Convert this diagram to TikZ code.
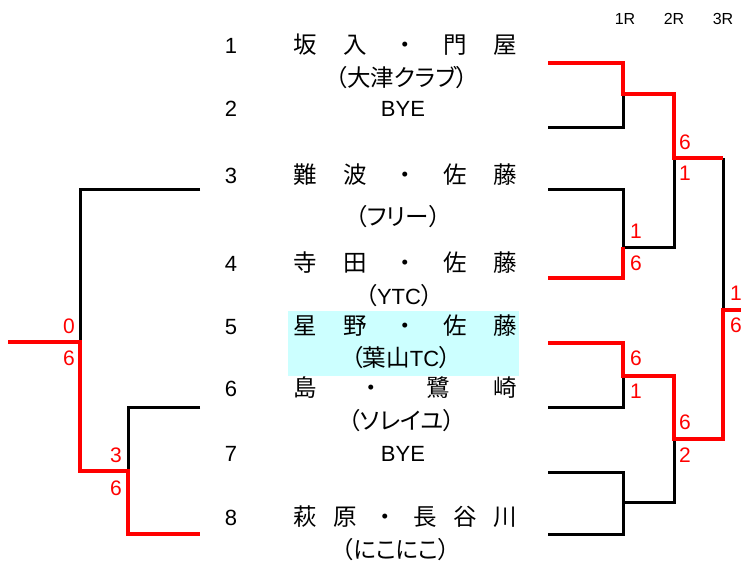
\documentclass[tikz,border=0pt]{standalone}
\usepackage{fontspec}
\setmainfont{Liberation Sans}
\newfontfamily\cjk{Noto Sans CJK JP}
\newfontfamily\cjkp[RawFeature=+palt]{Noto Sans CJK JP}
\definecolor{hlcyan}{RGB}{204,255,255}
\definecolor{winred}{RGB}{255,0,0}
\newcommand\jpsz{\fontsize{23.5}{23.5}\selectfont}
\begin{document}
\begin{tikzpicture}[x=1pt,y=-1pt,
  txt/.style={inner sep=0pt, text height=16.5pt, text depth=1pt, font=\fontsize{22}{22}\selectfont},
  jp/.style={txt, font=\cjk\jpsz},
  team/.style={txt, font=\cjkp\jpsz},
  hdr/.style={inner sep=0pt, text height=12pt, text depth=0pt, font=\fontsize{16}{16}\selectfont},
  score/.style={inner sep=0pt, text height=15.5pt, text depth=0pt, text=winred, font=\fontsize{21}{21}\selectfont},
  lose/.style={draw=black, line width=3pt},
  win/.style={draw=winred, line width=4pt}]
\useasboundingbox (0,0) rectangle (741,566);
% highlight
\node (hlbox) [fill=hlcyan, minimum width=231pt, minimum height=65pt, anchor=north west, inner sep=0pt] at (288,311) {};
% header
\node[hdr] (r1) at (625,18) {1R};
\node[hdr] (r2) at (674,18) {2R};
\node[hdr] (r3) at (723,18) {3R};
% seed numbers
\foreach \n/\y in {1/46,2/109,3/176,4/264,5/327,6/389,7/454,8/518}
  \node[txt] (num\n) at (231,\y) {\n};
% player names, spread
\foreach \c [count=\i] in {坂,入,・,門,屋} \node[jp] (nmA\i) at ({305+(\i-1)*50},46) {\c};
\foreach \c [count=\i] in {難,波,・,佐,藤} \node[jp] (nmB\i) at ({305+(\i-1)*50},176) {\c};
\foreach \c [count=\i] in {寺,田,・,佐,藤} \node[jp] (nmC\i) at ({305+(\i-1)*50},264) {\c};
\foreach \c [count=\i] in {星,野,・,佐,藤} \node[jp] (nmD\i) at ({305+(\i-1)*50},327) {\c};
\foreach \c [count=\i] in {島,・,鷺,崎} \node[jp] (nmE\i) at ({305+(\i-1)*200/3},389) {\c};
\foreach \c [count=\i] in {萩,原,・,長,谷,川} \node[jp] (nmF\i) at ({305+(\i-1)*40},518) {\c};
% teams and byes
\node[team] (tmA) at (402,79) {（大津クラブ）};
\node[txt] (bye2) at (403,109) {BYE};
\node[team] (tmB) at (398,218) {（フリー）};
\node[team] (tmC) at (399,297) {（{\rmfamily\fontsize{22}{22}\selectfont YTC}）};
\node[team] (tmD) at (401,359) {（葉山{\rmfamily\fontsize{22}{22}\selectfont TC}）};
\node[team] (tmE) at (402,422) {（ソレイユ）};
\node[txt] (bye7) at (403,454) {BYE};
\node[team] (tmF) at (396,551) {（にこにこ）};
% bracket coordinates (right)
\coordinate (e1) at (548,63);  \coordinate (e2) at (548,127);
\coordinate (e3) at (548,189); \coordinate (e4) at (548,278);
\coordinate (e5) at (548,343); \coordinate (e6) at (548,407);
\coordinate (e7) at (548,472); \coordinate (e8) at (548,534);
\coordinate (m12) at (623,94);  \coordinate (m34) at (623,247);
\coordinate (m56) at (623,376); \coordinate (m78) at (623,502);
\coordinate (q1) at (674,158);  \coordinate (q2) at (674,439);
\coordinate (fin) at (723,310); \coordinate (out) at (741,310);
\coordinate (q1r) at (723,158); \coordinate (q2r) at (723,439);
% bracket coordinates (left)
\coordinate (l3) at (200,189); \coordinate (l6) at (200,407); \coordinate (l8) at (200,534);
\coordinate (lj) at (80,342);  \coordinate (lout) at (8,342);
\coordinate (lk) at (128,471); \coordinate (lkl) at (80,471);
% losing lines
\draw[lose] (e2) -| (m12);
\draw[lose] (e3) -| (m34);
\draw[lose] (m34) -| (q1);
\draw[lose] (e6) -| (m56);
\draw[lose] (e7) -| (m78);
\draw[lose] (e8) -| (m78);
\draw[lose] (m78) -| (q2);
\draw[lose] (q1r) -- (fin);
\draw[lose] (l3) -| (lj);
\draw[lose] (l6) -| (lk);
% winning lines
\draw[win] (e1) -| (m12) -| (q1) -- (q1r);
\draw[win] (e4) -| (m34);
\draw[win] (e5) -| (m56) -| (q2) -- (q2r) -- (fin) -- (out);
\draw[win] (lout) -- (lj) -- (lkl) -- (lk) |- (l8);
% scores
\node[score, anchor=west] (s1a) at (679,142) {6};
\node[score, anchor=west] (s1b) at (679,173) {1};
\node[score, anchor=west] (s2a) at (630,231) {1};
\node[score, anchor=west] (s2b) at (630,263) {6};
\node[score, anchor=west] (s3a) at (730,293) {1};
\node[score, anchor=west] (s3b) at (730,325) {6};
\node[score, anchor=west] (s4a) at (630,358) {6};
\node[score, anchor=west] (s4b) at (630,391) {1};
\node[score, anchor=west] (s5a) at (679,422) {6};
\node[score, anchor=west] (s5b) at (679,455) {2};
\node[score, anchor=east] (s6a) at (75,326) {0};
\node[score, anchor=east] (s6b) at (75,358) {6};
\node[score, anchor=east] (s7a) at (122,455) {3};
\node[score, anchor=east] (s7b) at (122,488) {6};
\end{tikzpicture}
\end{document}
